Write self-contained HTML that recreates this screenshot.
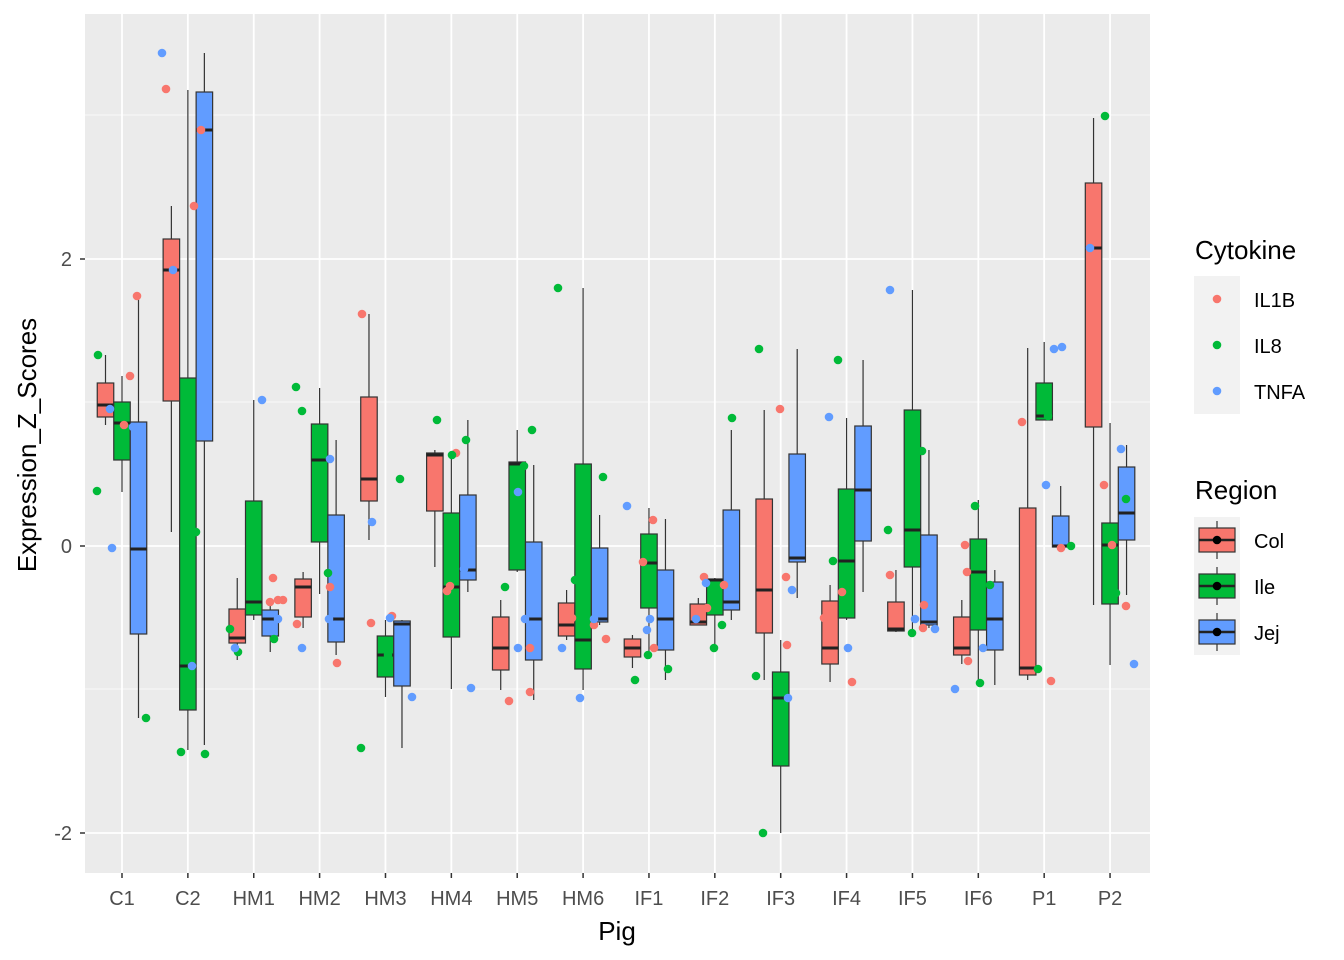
<!DOCTYPE html>
<html><head><meta charset="utf-8"><style>
html,body{margin:0;padding:0;background:#fff;}
svg{display:block;font-family:"Liberation Sans",Arial,sans-serif;}
</style></head><body>
<svg id="s" width="1344" height="960" xmlns="http://www.w3.org/2000/svg">
<rect x="0" y="0" width="1344" height="960" fill="#fff"/>
<rect x="85" y="14" width="1065" height="859" fill="#EBEBEB"/>
<g id="grid"></g>
<g id="plot"></g>
<g font-size="20" fill="#4D4D4D" text-anchor="end">
<text x="72" y="266">2</text><text x="72" y="553">0</text><text x="72" y="840">-2</text>
</g>
<g stroke="#333" stroke-width="1.5">
<line x1="80" y1="259" x2="85" y2="259"/><line x1="80" y1="546" x2="85" y2="546"/><line x1="80" y1="833" x2="85" y2="833"/>
</g>
<g id="xt" font-size="20" fill="#4D4D4D" text-anchor="middle"></g>
<text x="617" y="940" font-size="26" text-anchor="middle" fill="#000">Pig</text>
<text transform="translate(36,445) rotate(-90)" font-size="26" text-anchor="middle" fill="#000">Expression_Z_Scores</text>
<text x="1195" y="259" font-size="26" fill="#000">Cytokine</text>
<text x="1195" y="499" font-size="26" fill="#000">Region</text>
<g id="leg"></g>
</svg>
<script>
var NS="http://www.w3.org/2000/svg";
function el(p,t,a,txt){var e=document.createElementNS(NS,t);for(var k in a)e.setAttribute(k,a[k]);if(txt)e.textContent=txt;document.getElementById(p).appendChild(e);return e;}
var cats=["C1","C2","HM1","HM2","HM3","HM4","HM5","HM6","IF1","IF2","IF3","IF4","IF5","IF6","P1","P2"];
function cx(i){return 122+i*65.87;}
[115,402,689].forEach(function(y){el("grid","line",{x1:85,x2:1150,y1:y,y2:y,stroke:"#fff","stroke-width":0.8});});
[259,546,833].forEach(function(y){el("grid","line",{x1:85,x2:1150,y1:y,y2:y,stroke:"#fff","stroke-width":1.8});});
cats.forEach(function(c,i){var x=cx(i);el("grid","line",{x1:x,x2:x,y1:14,y2:873,stroke:"#fff","stroke-width":1.8});
el("plot","line",{x1:x,x2:x,y1:873,y2:878,stroke:"#333","stroke-width":1.5});
el("xt","text",{x:x,y:905},c);});
var cols=["#F8766D","#00BA38","#619CFF"];
// [wlow(top), q3, med, q1, whigh(bottom)] as pixel: top, boxtop, med, boxbot, bottom
var B=[
[[355,383,405,417,425],[376,402,423,460,492],[296,422,549,634,718]],
[[206,239,270,401,532],[90,378,666,710,750],[53,92,130,441,745]],
[[578,609,638,643,660],[400,501,602,615,620],[600,610,619,636,652]],
[[572,579,587,617,628],[388,424,460,542,594],[440,515,619,642,655]],
[[314,397,479,501,540],[620,636,655,677,697],[620,621,624,686,748]],
[[450,453,455,511,567],[455,513,587,637,689],[420,495,570,580,592]],
[[600,617,648,670,690],[430,462,464,570,572],[465,542,619,660,700]],
[[590,603,625,636,640],[288,464,640,669,690],[515,548,619,622,625]],
[[635,639,648,657,668],[508,534,563,608,655],[519,570,619,650,680]],
[[598,604,622,625,625],[578,579,580,615,648],[430,510,602,610,620]],
[[410,499,590,633,680],[640,672,698,766,833],[349,454,558,562,598]],
[[585,601,648,664,682],[418,489,561,618,620],[360,426,490,541,592]],
[[570,602,629,631,632],[290,410,530,567,630],[450,535,622,625,628]],
[[600,617,648,655,664],[500,539,572,630,685],[570,582,619,650,685]],
[[348,508,668,675,680],[342,383,416,420,420],[486,516,546,547,550]],
[[118,183,248,427,605],[423,523,545,604,665],[445,467,513,540,595]]];
B.forEach(function(g,i){g.forEach(function(b,r){var x=cx(i)+(r-1)*16.5,w=16.5,l=x-w/2;
el("plot","line",{x1:x,x2:x,y1:b[0],y2:b[4],stroke:"#333","stroke-width":1.2});
el("plot","rect",{x:l,y:b[1],width:w,height:b[3]-b[1],fill:cols[r],stroke:"#333","stroke-width":1.2});
el("plot","line",{x1:l,x2:l+w,y1:b[2],y2:b[2],stroke:"#222","stroke-width":3});});});
var R=cols[0],G=cols[1],U=cols[2];
var P=[[137,296,R],[130,376,R],[124,425,R],[98,355,G],[97,491,G],[146,718,G],[112,548,U],[110,409,U],[133,427,U],
[166,89,R],[194,206,R],[201,130,R],[181,752,G],[196,532,G],[205,754,G],[162,53,U],[173,270,U],[192,666,U],
[273,578,R],[270,602,R],[278,600,R],[283,600,R],[230,629,G],[238,652,G],[274,639,G],[262,400,U],[278,619,U],[235,648,U],
[297,624,R],[330,587,R],[337,663,R],[296,387,G],[302,411,G],[328,573,G],[302,648,U],[330,459,U],[329,619,U],
[362,314,R],[371,623,R],[392,616,R],[361,748,G],[400,479,G],[388,655,G],[372,522,U],[390,618,U],[412,697,U],
[447,591,R],[450,586,R],[456,453,R],[437,420,G],[452,455,G],[466,440,G],[471,688,U],[464,569,U],
[509,701,R],[530,692,R],[530,648,R],[505,587,G],[524,466,G],[532,430,G],[518,492,U],[525,619,U],[518,648,U],
[594,625,R],[606,639,R],[572,618,R],[558,288,G],[575,580,G],[603,477,G],[562,648,U],[580,698,U],[594,619,U],
[643,562,R],[653,520,R],[654,648,R],[635,680,G],[648,655,G],[668,669,G],[627,506,U],[647,630,U],[650,619,U],
[704,577,R],[724,585,R],[707,608,R],[714,648,G],[722,625,G],[732,418,G],[706,583,U],[696,619,U],
[780,409,R],[786,577,R],[787,645,R],[759,349,G],[756,676,G],[763,833,G],[792,590,U],[788,698,U],
[824,618,R],[842,592,R],[852,682,R],[833,561,G],[838,360,G],[846,521,G],[829,417,U],[848,648,U],
[890,575,R],[924,605,R],[923,628,R],[888,530,G],[912,633,G],[922,451,G],[890,290,U],[915,619,U],[935,629,U],
[965,545,R],[968,661,R],[967,572,R],[975,506,G],[980,683,G],[990,585,G],[955,689,U],[983,648,U],
[1022,422,R],[1051,681,R],[1061,548,R],[1038,669,G],[1048,416,G],[1071,546,G],[1046,485,U],[1054,349,U],[1062,347,U],
[1104,485,R],[1112,545,R],[1126,606,R],[1105,116,G],[1116,593,G],[1126,499,G],[1090,248,U],[1121,449,U],[1134,664,U]];
P.forEach(function(p){el("plot","circle",{cx:p[0],cy:p[1],r:4.3,fill:p[2]});});
var labs=["IL1B","IL8","TNFA"],rl=["Col","Ile","Jej"];
for(var k=0;k<3;k++){var y=276+k*46;
el("leg","rect",{x:1194,y:y,width:46,height:46,fill:"#F2F2F2"});
el("leg","circle",{cx:1217,cy:y+23,r:4.3,fill:cols[k]});
el("leg","text",{x:1254,y:y+31,"font-size":20,fill:"#000"},labs[k]);
var y2=517+k*46;
el("leg","rect",{x:1194,y:y2,width:46,height:46,fill:"#F2F2F2"});
el("leg","line",{x1:1217,x2:1217,y1:y2+4,y2:y2+42,stroke:"#333","stroke-width":1.2});
el("leg","rect",{x:1199,y:y2+11,width:36,height:24,fill:cols[k],stroke:"#333","stroke-width":1.2});
el("leg","line",{x1:1199,x2:1235,y1:y2+23,y2:y2+23,stroke:"#222","stroke-width":2.5});
el("leg","circle",{cx:1217,cy:y2+23,r:4.3,fill:"#000"});
el("leg","text",{x:1254,y:y2+31,"font-size":20,fill:"#000"},rl[k]);}
</script>
</body></html>
